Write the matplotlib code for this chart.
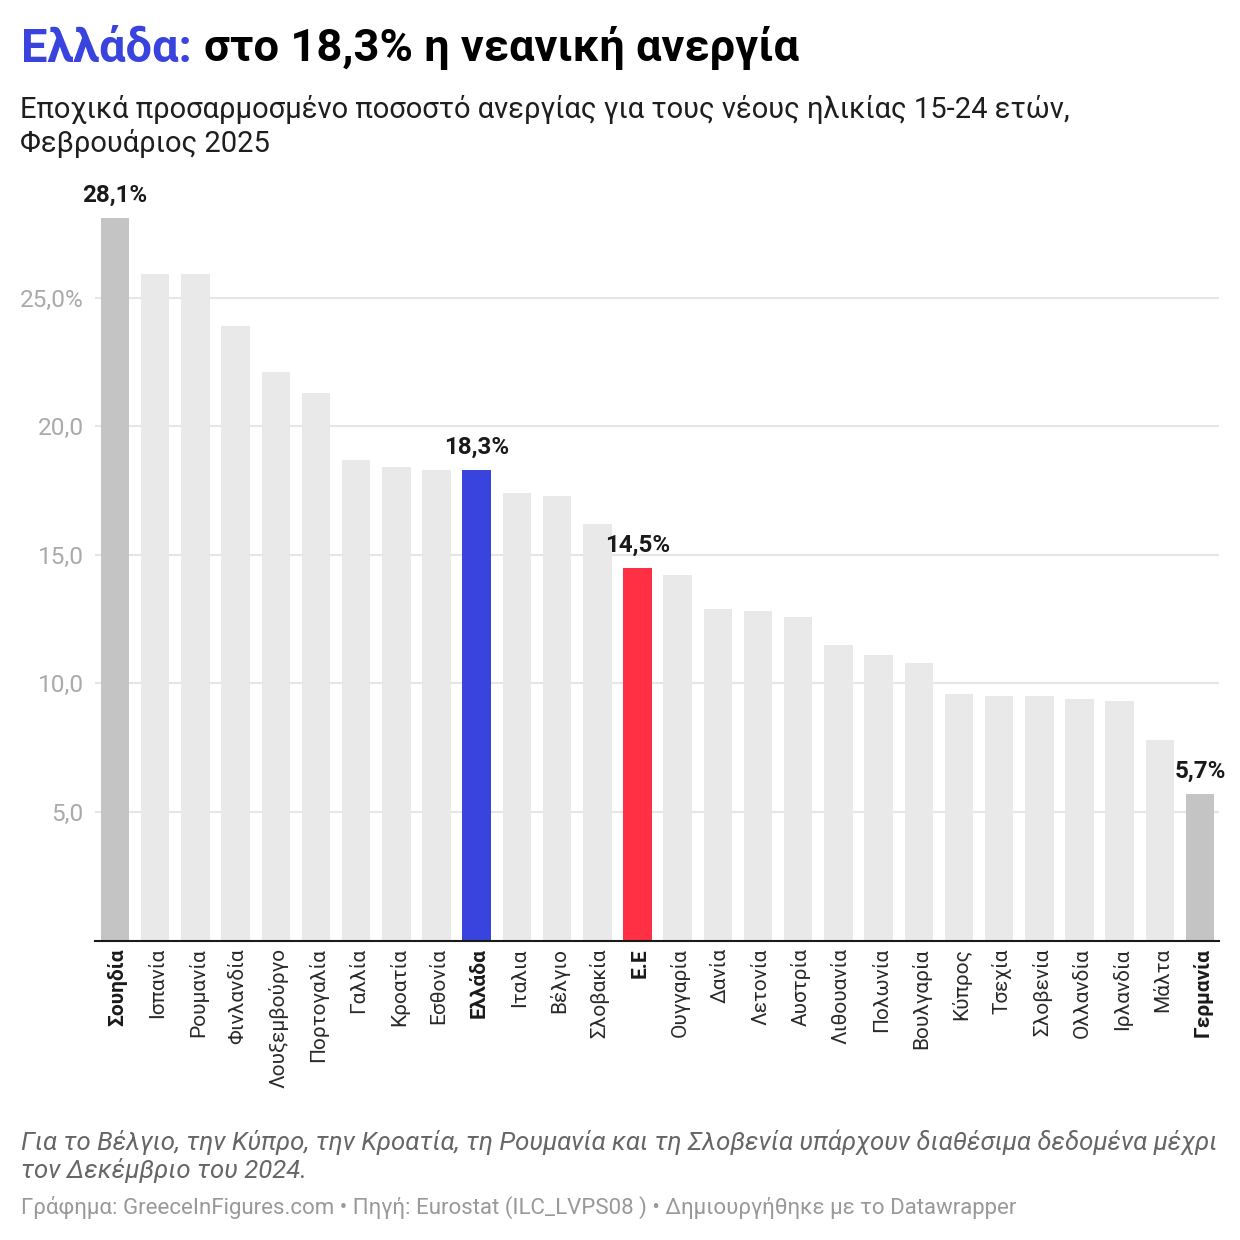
import matplotlib
matplotlib.use('Agg')
import matplotlib.pyplot as plt
from matplotlib.transforms import ScaledTranslation

plt.rcParams['font.family'] = ['Roboto', 'DejaVu Sans']

countries = ['Σουηδία', 'Ισπανία', 'Ρουμανία', 'Φινλανδία', 'Λουξεμβούργο', 'Πορτογαλία', 'Γαλλία',
             'Κροατία', 'Εσθονία', 'Ελλάδα', 'Ιταλια', 'Βέλγιο', 'Σλοβακία', 'Ε.Ε', 'Ουγγαρία', 'Δανία',
             'Λετονία', 'Αυστρία', 'Λιθουανία', 'Πολωνία', 'Βουλγαρία', 'Κύπρος', 'Τσεχία', 'Σλοβενία',
             'Ολλανδία', 'Ιρλανδία', 'Μάλτα', 'Γερμανία']
rates = [28.1, 25.9, 25.9, 23.9, 22.1, 21.3, 18.7, 18.4, 18.3, 18.3, 17.4, 17.3, 16.2, 14.5,
         14.2, 12.9, 12.8, 12.6, 11.5, 11.1, 10.8, 9.6, 9.5, 9.5, 9.4, 9.3, 7.8, 5.7]
highlight = {'Σουηδία': '#c4c4c4', 'Ελλάδα': '#3943dd', 'Ε.Ε': '#ff3044', 'Γερμανία': '#c4c4c4'}
labelled = ['Σουηδία', 'Ελλάδα', 'Ε.Ε', 'Γερμανία']
bold_names = ['Σουηδία', 'Ελλάδα', 'Ε.Ε', 'Γερμανία']
y_ticks = [5, 10, 15, 20, 25]
y_labels = ['5,0', '10,0', '15,0', '20,0', '25,0%']

fig = plt.figure(figsize=(12.4, 12.4), dpi=100)
W = 1240.0

def fx(px):
    return px / W

def fy(px):
    return 1 - px / W

# plot area in pixels: x 95..1219, y 190..940.6
ax = fig.add_axes([fx(95), fy(940.6), fx(1219 - 95), (940.6 - 190) / W])
colors = [highlight.get(c, '#e9e9e9') for c in countries]
xs = list(range(len(countries)))
ax.bar(xs, rates, width=0.71, color=colors, zorder=2)
ax.set_xlim(-0.498, 27.47)
ax.set_ylim(0, (940.6 - 190) / 25.72)

ax.set_yticks(y_ticks)
ax.set_yticklabels(y_labels, fontsize=17.6, color='#aaaaaa')
ax.yaxis.grid(True, color='#e6e6e6', linewidth=1.5, zorder=1)
ax.tick_params(axis='y', length=0, pad=8)
ax.set_xticks(xs)
ax.set_xticklabels(countries, rotation=90, fontsize=15, color='#2a2a2a', va='top', ha='center')
ax.tick_params(axis='x', length=0, pad=5.5)
# rotated labels sit a little right of the bar centre in the original
shift = ScaledTranslation(2.5 / 100, 0, fig.dpi_scale_trans)
for tl, name in zip(ax.get_xticklabels(), countries):
    tl.set_transform(tl.get_transform() + shift)
    if name in bold_names:
        tl.set_fontweight('bold')
        tl.set_color('#1a1a1a')

for s in ['top', 'left', 'right']:
    ax.spines[s].set_visible(False)
ax.spines['bottom'].set_color('#1a1a1a')
ax.spines['bottom'].set_linewidth(1.5)
ax.spines['bottom'].set_zorder(3)

for name in labelled:
    i = countries.index(name)
    ax.annotate(f'{rates[i]:.1f}%'.replace('.', ','), (i, rates[i]), xytext=(0, 8), textcoords='offset points',
                ha='center', va='bottom', fontsize=17.4, fontweight='bold', color='#1a1a1a',
                annotation_clip=False)

# title in two colours
t1 = fig.text(fx(21), fy(61.5), 'Ελλάδα:', fontsize=33.8, fontweight='bold', color='#3943dd', va='baseline')
fig.canvas.draw()
bb = t1.get_window_extent()
fig.text(fx(bb.x1 + 12), fy(61.5), 'στο 18,3% η νεανική ανεργία', fontsize=32.6, fontweight='bold',
         color='#000000', va='baseline')

fig.text(fx(20), fy(118), 'Εποχικά προσαρμοσμένο ποσοστό ανεργίας για τους νέους ηλικίας 15-24 ετών,',
         fontsize=20.95, color='#1e1e1e', va='baseline')
fig.text(fx(20), fy(152), 'Φεβρουάριος 2025', fontsize=20.95, color='#1e1e1e', va='baseline')

fig.text(fx(21), fy(1150), 'Για το Βέλγιο, την Κύπρο, την Κροατία, τη Ρουμανία και τη Σλοβενία υπάρχουν διαθέσιμα δεδομένα μέχρι',
         fontsize=18.55, style='italic', color='#666666', va='baseline')
fig.text(fx(21), fy(1178), 'τον Δεκέμβριο του 2024.', fontsize=18.55, style='italic', color='#666666', va='baseline')
fig.text(fx(21), fy(1214), 'Γράφημα: GreeceInFigures.com • Πηγή: Eurostat (ILC_LVPS08 ) • Δημιουργήθηκε με το Datawrapper',
         fontsize=16.05, color='#999999', va='baseline')

fig.savefig('out.png', dpi=100, facecolor='white')
